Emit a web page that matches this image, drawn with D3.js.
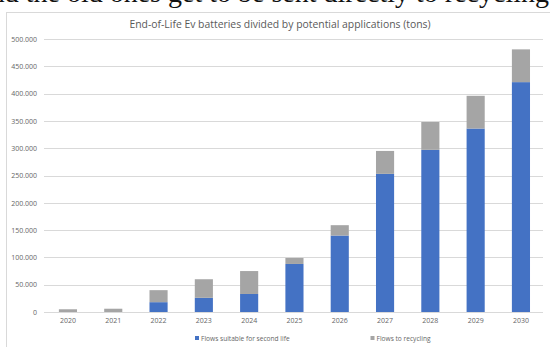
<!DOCTYPE html>
<html>
<head>
<meta charset="utf-8">
<script src="https://cdn.jsdelivr.net/npm/d3@7"></script>
<style>
  html, body { margin: 0; padding: 0; background: #fff; }
  svg { display: block; }
</style>
</head>
<body>
<svg id="chart" width="550" height="347"></svg>
<script>
// End-of-life EV battery flows, tons per year
const years = ["2020","2021","2022","2023","2024","2025","2026","2027","2028","2029","2030"];
const secondLife = [0, 0, 18000, 26000, 33000, 88000, 140000, 253000, 297000, 336000, 421000];
const recycling  = [5000, 6000, 22000, 34000, 42000, 11000, 19000, 42000, 51000, 60000, 60000];
const yTicks = [0, 50000, 100000, 150000, 200000, 250000, 300000, 350000, 400000, 450000, 500000];
const seriesNames = ["Flows suitable for second life", "Flows to recycling"];
const seriesColors = ["#4472C4", "#A5A5A5"];

const svg = d3.select("#chart");
const font = "'Open Sans', 'Liberation Sans', sans-serif";

// running text line from the page above the chart
svg.append("text")
  .attr("x", 549).attr("y", 1.5)
  .attr("text-anchor", "end")
  .attr("font-family", "'Liberation Serif', serif")
  .attr("font-size", 28)
  .attr("fill", "#111")
  .text("and the old ones get to be sent directly to recycling");

// chart frame
svg.append("rect")
  .attr("x", 6.5).attr("y", 12.5)
  .attr("width", 560).attr("height", 360)
  .attr("fill", "#fff")
  .attr("stroke", "#d9d9d9");

svg.append("text")
  .attr("x", 280).attr("y", 27.5)
  .attr("text-anchor", "middle")
  .attr("font-family", font)
  .attr("font-size", 10.4)
  .attr("fill", "#595959")
  .text("End-of-Life Ev batteries divided by potential applications (tons)");

const x = d3.scaleBand().domain(years).range([45.3, 543.6]).paddingInner(0.6).paddingOuter(0.3);
const y = d3.scaleLinear().domain([0, 500000]).range([312, 39]);

// gridlines
svg.append("g")
  .selectAll("line")
  .data(yTicks)
  .join("line")
  .attr("x1", 44).attr("x2", 543)
  .attr("y1", d => Math.round(y(d)) + 0.5)
  .attr("y2", d => Math.round(y(d)) + 0.5)
  .attr("stroke", "#d9d9d9");

// y axis labels
const fmt = d => d === 0 ? "0" : d3.format(",")(d).replace(/,/g, ".");
const yAxis = d3.axisLeft(y).tickValues(yTicks).tickFormat(fmt).tickSize(0).tickPadding(0);
svg.append("g")
  .attr("transform", "translate(37,0)")
  .call(yAxis)
  .call(g => g.select(".domain").remove())
  .call(g => g.selectAll("text")
    .attr("font-family", font).attr("font-size", 7).attr("fill", "#666"));

// stacked bars
const rows = years.map((yr, i) => ({ year: yr, s0: secondLife[i], s1: recycling[i] }));
const stack = d3.stack().keys(["s0", "s1"])(rows);
svg.append("g")
  .selectAll("g")
  .data(stack)
  .join("g")
  .attr("fill", (d, i) => seriesColors[i])
  .selectAll("rect")
  .data(d => d)
  .join("rect")
  .attr("x", d => x(d.data.year))
  .attr("width", x.bandwidth())
  .attr("y", d => y(d[1]))
  .attr("height", d => y(d[0]) - y(d[1]));

// x axis
const xAxis = d3.axisBottom(x).tickSize(0).tickPadding(0);
svg.append("g")
  .attr("transform", "translate(0,318)")
  .call(xAxis)
  .call(g => g.select(".domain").remove())
  .call(g => g.selectAll("text")
    .attr("font-family", font).attr("font-size", 7).attr("fill", "#666"));

// legend
const legendX = [195, 370.5];
const legend = svg.append("g")
  .selectAll("g")
  .data(seriesNames)
  .join("g")
  .attr("transform", (d, i) => `translate(${legendX[i]},340)`);
legend.append("rect")
  .attr("x", 0).attr("y", -4).attr("width", 4).attr("height", 4)
  .attr("fill", (d, i) => seriesColors[i]);
legend.append("text")
  .attr("x", 6).attr("y", 0.5)
  .attr("font-family", font).attr("font-size", 6.6).attr("fill", "#666")
  .text(d => d);
</script>
</body>
</html>
